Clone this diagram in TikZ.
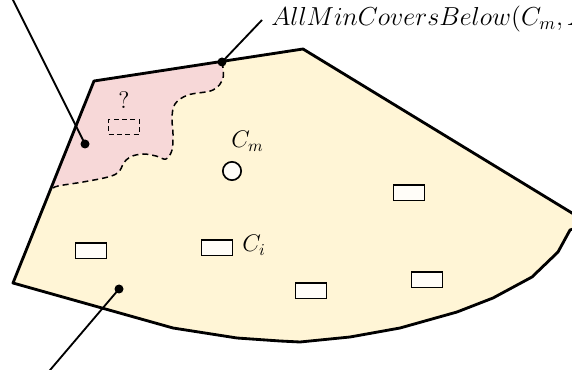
\documentclass[tikz,border=0pt]{standalone}
\usepackage{graphicx}
\usetikzlibrary{calc}
\definecolor{regionfill}{HTML}{FFF5D6}
\definecolor{pinkfill}{HTML}{F7D8D8}
\definecolor{boxfill}{HTML}{FFFDF8}
\newcommand{\lbltext}[1]{\scalebox{1.0}{\Large #1}}
\tikzset{
  border/.style={line width=1.7pt, line join=round},
  conn/.style={line width=1.1pt},
  dotnode/.style={circle, fill=black, inner sep=0pt, minimum size=5.4pt},
  cover/.style={draw, line width=1pt, fill=boxfill, rectangle, inner sep=0pt, minimum width=18.6pt, minimum height=9.2pt},
  dashcover/.style={draw, line width=0.9pt, dash pattern=on 3pt off 2pt, rectangle, inner sep=0pt, minimum width=18.6pt, minimum height=8.8pt},
  lbl/.style={inner sep=0pt, anchor=base west},
  wavy/.style={line width=0.9pt, dash pattern=on 3.6pt off 2.4pt}
}
\begin{document}
\begin{tikzpicture}[x=0.6pt, y=-0.6pt]
\useasboundingbox (0,0) rectangle (572,370);
\clip (0,0) rectangle (572,370);
% main region
\fill[regionfill] (94,81) -- (303,49) -- (590,224) -- (582,226) -- (570,230) -- (558,252) -- (532,277) -- (493,298) -- (457,312) -- (400,328) -- (350,337) -- (300,342) -- (280,341) -- (237,338) -- (173,328) -- (13,283) -- cycle;
% pink part
\fill[pinkfill] (52,189) -- (94,81) -- (222,62)
  plot[smooth, tension=0.6] coordinates {(222,62) (223,78) (213,90) (188,95) (175,104) (172,118) (173,134) (172,150) (166,159) (156,156) (143,154) (130,157) (123,164) (119,172) (108,177) (83,182) (58,186) (52,189)} -- cycle;
\draw[wavy] plot[smooth, tension=0.6] coordinates {(222,62) (223,78) (213,90) (188,95) (175,104) (172,118) (173,134) (172,150) (166,159) (156,156) (143,154) (130,157) (123,164) (119,172) (108,177) (83,182) (58,186) (52,189)};
% border
\draw[border] (590,224) -- (303,49) -- (94,81) -- (13,283) -- (173,328) -- (237,338) -- (280,341) -- (300,342) -- (350,337) -- (400,328) -- (457,312) -- (493,298) -- (532,277) -- (558,252) -- (570,230) -- (582,226);
% covers
\node[dashcover] (q) at (124,127) {};
\node[inner sep=0pt, anchor=base] (qm) at (124,109) {\lbltext{?}};
\node[draw, circle, line width=1pt, fill=boxfill, inner sep=0pt, minimum size=11pt] (cm) at (232,171) {};
\node[lbl] (cml) at (231,148) {\lbltext{$C_m$}};
\node[cover] (c1) at (91,251) {};
\node[cover] (ci) at (217,248) {};
\node[lbl] (cil) at (242,252) {\lbltext{$C_i$}};
\node[cover] (c3) at (409,193) {};
\node[cover] (c4) at (311,291) {};
\node[cover] (c5) at (427,280) {};
% connectors
\node[dotnode] (d1) at (222,62) {};
\coordinate (e1) at (262,20);
\draw[conn] (d1.center) -- (e1);
\node[lbl] (title) at (271,26) {\scalebox{1.083}{\Large $AllMinCoversBelow(C_m, X)$}};
\node[dotnode] (d2) at (85,144) {};
\coordinate (e2) at (5,-16);
\draw[conn] (d2.center) -- (e2);
\node[dotnode] (d3) at (119,289) {};
\coordinate (e3) at (45,376);
\draw[conn] (d3.center) -- (e3);
\end{tikzpicture}
\end{document}
